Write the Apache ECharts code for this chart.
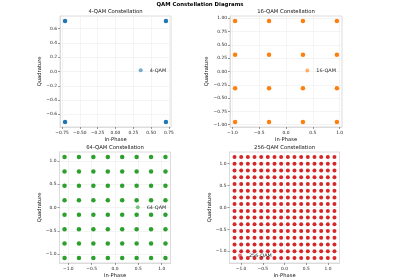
<!DOCTYPE html>
<html>
<head>
<meta charset="utf-8">
<script src="https://cdn.jsdelivr.net/npm/echarts@6/dist/echarts.min.js"></script>
<style>
html, body { margin: 0; padding: 0; background: #fff; }
#chart { width: 400px; height: 280px; }
</style>
</head>
<body>
<div id="chart"></div>
<script>
// constellation levels (I and Q use the same levels)
var names = ['4-QAM', '16-QAM', '64-QAM', '256-QAM'];
var colors = ['#1f77b4', '#ff7f0e', '#2ca02c', '#d62728'];
var levels4 = [-0.707, 0.707];
var levels16 = [-0.949, -0.316, 0.316, 0.949];
var levels64 = [-1.080, -0.772, -0.463, -0.154, 0.154, 0.463, 0.772, 1.080];
var levels256 = [-1.150, -0.997, -0.844, -0.690, -0.537, -0.384, -0.230, -0.077,
                 0.077, 0.230, 0.384, 0.537, 0.690, 0.844, 0.997, 1.150];

// tick labels
var xTicks4 = [-0.75, -0.5, -0.25, 0, 0.25, 0.5, 0.75];
var yTicks4 = [-0.6, -0.4, -0.2, 0, 0.2, 0.4, 0.6];
var xTicks16 = [-1, -0.5, 0, 0.5, 1];
var yTicks16 = [-1, -0.75, -0.5, -0.25, 0, 0.25, 0.5, 0.75, 1];
var ticks64 = [-1, -0.5, 0, 0.5, 1];
var ticks256 = [-1, -0.5, 0, 0.5, 1];

var allLevels = [levels4, levels16, levels64, levels256];
var xTicks = [xTicks4, xTicks16, ticks64, ticks256];
var yTicks = [yTicks4, yTicks16, ticks64, ticks256];
var xDec = [2, 1, 1, 1];
var yDec = [1, 2, 1, 1];
var ranges = [0.778, 1.044, 1.188, 1.266];

var grids = [
  { left: 60, top: 16, width: 111, height: 111 },
  { left: 230, top: 16, width: 112, height: 111 },
  { left: 59.5, top: 152, width: 111, height: 111 },
  { left: 229.5, top: 152, width: 110, height: 111 }
];
// marker centre of each legend
var legendPos = [[140.7, 70.7], [307.3, 71], [137.7, 207.7], [240, 256]];
var yNameGap = [15.5, 20.5, 16.5, 17];

var FONT = 'DejaVu Sans';

function fmt(v, d) {
  var s = v.toFixed(d);
  return s.charAt(0) === '-' ? '\u2212' + s.slice(1) : s;
}

function gridData(lv) {
  var pts = [];
  for (var i = 0; i < lv.length; i++) {
    for (var q = 0; q < lv.length; q++) {
      pts.push([lv[i], lv[q]]);
    }
  }
  return pts;
}

var dom = document.getElementById('chart');
var myChart = echarts.init(dom, null, { renderer: 'canvas' });

var option = {
  animation: false,
  title: [{
    text: 'QAM Constellation Diagrams',
    left: 200, top: 2.2, textAlign: 'center', padding: 0,
    textStyle: { fontFamily: FONT, fontSize: 5.4, fontWeight: 'bold', color: '#000' }
  }],
  grid: [], xAxis: [], yAxis: [], series: [], legend: []
};

for (var k = 0; k < 4; k++) {
  var g = grids[k];
  option.grid.push({
    left: g.left, top: g.top, width: g.width, height: g.height,
    show: true, borderColor: '#dcdcdc', borderWidth: 1, backgroundColor: '#fff'
  });
  option.title.push({
    text: names[k] + ' Constellation',
    left: g.left + g.width / 2, top: g.top - 6.8, textAlign: 'center', padding: 0,
    textStyle: { fontFamily: FONT, fontSize: 5.3, fontWeight: 'normal', color: '#111' }
  });
  var axisCommon = function (ticks, dec) {
    return {
      type: 'value', min: -ranges[k], max: ranges[k],
      nameLocation: 'middle',
      nameTextStyle: { fontFamily: FONT, fontSize: 5.2, color: '#111' },
      axisLine: { show: true, onZero: false, lineStyle: { color: '#dcdcdc' } },
      axisTick: { show: true, length: 2, customValues: ticks, lineStyle: { color: '#555', width: 0.6 } },
      axisLabel: {
        customValues: ticks, fontFamily: FONT, fontSize: 4.4, color: '#222', margin: 3.5,
        formatter: (function (d) { return function (v) { return fmt(v, d); }; })(dec)
      },
      splitLine: { show: true, customValues: ticks, lineStyle: { color: '#efefef', width: 0.7 } }
    };
  };
  var xa = axisCommon(xTicks[k], xDec[k]);
  xa.gridIndex = k; xa.name = 'In-Phase'; xa.nameGap = 10;
  var ya = axisCommon(yTicks[k], yDec[k]);
  ya.gridIndex = k; ya.name = 'Quadrature'; ya.nameGap = yNameGap[k];
  ya.axisLabel.margin = 3;
  option.xAxis.push(xa);
  option.yAxis.push(ya);
  option.series.push({
    name: names[k], type: 'scatter', xAxisIndex: k, yAxisIndex: k,
    symbolSize: k === 3 ? 4 : 4.5,
    itemStyle: { color: colors[k], opacity: 1 },
    data: gridData(allLevels[k])
  });
  option.legend.push({
    data: [names[k]], left: legendPos[k][0] - 2, top: legendPos[k][1] - 2.9, padding: 0,
    icon: 'circle', itemWidth: 4, itemHeight: 4, itemGap: 0,
    itemStyle: { opacity: 0.6 },
    textStyle: { fontFamily: FONT, fontSize: 4.9, color: '#222', padding: [0, 0, 0, 2] },
    selectedMode: false
  });
}

myChart.setOption(option);
window.addEventListener('resize', myChart.resize);
</script>
</body>
</html>
